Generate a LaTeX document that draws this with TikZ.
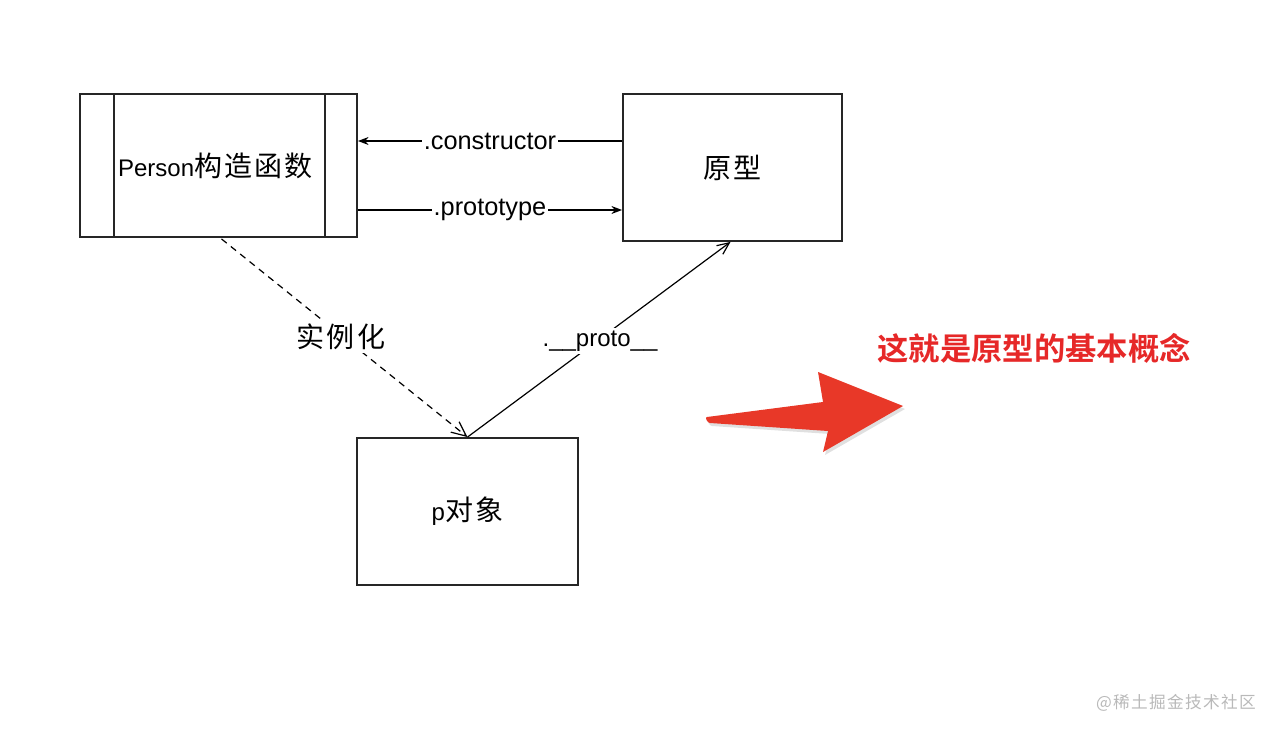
\documentclass[tikz,border=0pt]{standalone}
\usepackage{fontspec}
\setmainfont{Liberation Sans}
\newfontfamily\cjk[LetterSpace=8]{Noto Sans CJK SC}
\newfontfamily\cjkb[LetterSpace=0]{Noto Sans CJK SC Bold}
\usetikzlibrary{arrows.meta,calc}
\definecolor{redarrow}{RGB}{232,56,40}
\definecolor{redtext}{RGB}{230,40,40}
\definecolor{wm}{RGB}{185,185,185}
\tikzset{
  boxnode/.style={draw=black!85, line width=1.4pt, minimum width=#1, inner sep=0pt},
  conn/.style={draw=black, line width=0.9pt},
  lbl/.style={fill=white, inner sep=1.5pt, font=\fontsize{19}{21}\selectfont},
  cjklbl/.style={font=\fontsize{21}{24}\cjk},
}
\begin{document}
\begin{tikzpicture}[x=0.75pt,y=-0.75pt]
\useasboundingbox (0,0) rectangle (1277,734);
% boxes
\node[boxnode=277*0.75pt, minimum height=143*0.75pt] (person) at (218.5,165.5) {};
\node[boxnode=219*0.75pt, minimum height=147*0.75pt] (yuan) at (732.5,167.5) {};
\node[boxnode=221*0.75pt, minimum height=147*0.75pt] (pobj) at (467.5,511.5) {};
% inner lines of Person box
\coordinate (pl1) at ($(person.north west)+(35,0)$);
\coordinate (pl2) at ($(person.south west)+(35,0)$);
\coordinate (pr1) at ($(person.north east)+(-33,0)$);
\coordinate (pr2) at ($(person.south east)+(-33,0)$);
\draw[black!85, line width=1.4pt] (pl1) -- (pl2) (pr1) -- (pr2);
% texts
\node at ($(person.center)+(-3,0)$) {\fontsize{18}{20}\selectfont Person\fontsize{21}{24}\cjk 构造函数};
\node[cjklbl] at (yuan.center) {原型};
\node at (pobj.center) {\fontsize{18}{20}\selectfont p\fontsize{21}{24}\cjk 对象};
% connectors
\coordinate (c1) at ($(yuan.west)+(0,-26.5)$);
\coordinate (c2) at ($(person.east)+(0,-24.5)$);
\draw[conn, -{Stealth[length=8pt,width=6pt]}] (c1) -- node[lbl]{.constructor} (c2);
\coordinate (p1) at ($(person.east)+(0,44.5)$);
\coordinate (p2) at ($(yuan.west)+(0,42.5)$);
\draw[conn, -{Stealth[length=8pt,width=6pt]}] (p1) -- node[lbl]{.prototype} (p2);
\coordinate (d1) at ($(person.south)+(3,1)$);
\draw[conn, dashed, dash pattern=on 5pt off 4pt, -{Straight Barb[length=11pt,width=10pt]}] (d1) -- (pobj.north);
\node[cjklbl, fill=white, inner sep=2pt] (inst) at (341,337) {实例化};
\coordinate (y1) at ($(yuan.south)+(-2,0)$);
\draw[conn, -{Straight Barb[length=9pt,width=8pt]}] (pobj.north) -- (y1);
\node[fill=white, inner sep=2pt, font=\fontsize{18}{20}\selectfont] (protolbl) at (600,341) {.\_\_proto\_\_};
% red arrow
\coordinate (a1) at (707,417);
\coordinate (a2) at (823,402);
\coordinate (a3) at (818,372);
\coordinate (a4) at (903,406);
\coordinate (a5) at (823,452);
\coordinate (a6) at (828,431);
\coordinate (a7) at (710,423);
\fill[black, opacity=0.12] ($(a1)+(2,3)$) -- ($(a2)+(2,3)$) -- ($(a3)+(2,3)$) -- ($(a4)+(2,3)$) -- ($(a5)+(2,3)$) -- ($(a6)+(2,3)$) -- ($(a7)+(2,3)$) to[out=180,in=180] ($(a1)+(2,3)$);
\fill[redarrow] (a1) -- (a2) -- (a3) -- (a4) -- (a5) -- (a6) -- (a7) to[out=180,in=180] (a1);
% title
\node[text=redtext, font=\fontsize{23.5}{26}\cjkb] (title) at (1034,348) {这就是原型的基本概念};
% watermark
\node[text=wm, font=\fontsize{12.5}{15}\cjk] (wmk) at (1176,703) {@稀土掘金技术社区};
\end{tikzpicture}
\end{document}
